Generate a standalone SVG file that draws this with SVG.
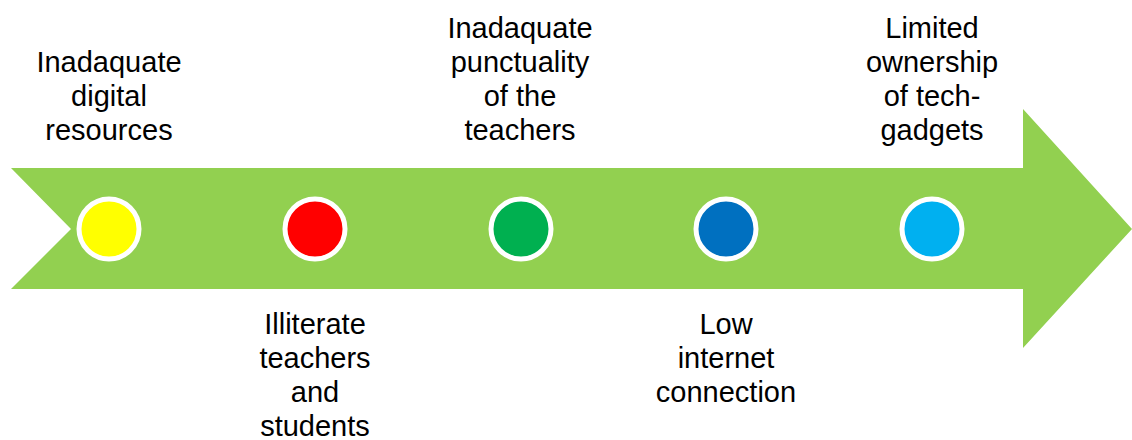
<svg xmlns="http://www.w3.org/2000/svg" width="1132" height="440" viewBox="0 0 1132 440">
<style>
.lbl{font-family:"Liberation Sans",Arial,sans-serif;font-size:29px;fill:#000;text-anchor:middle}
.dot{stroke:#fff;stroke-width:5}
</style>
<rect width="1132" height="440" fill="#fff"/>
<g id="connectors">
<path id="arrow" d="M11,168 L1023,168 L1023,109 L1132,229 L1023,348 L1023,289 L11,289 L71,229 Z" fill="#92D050"/>
</g>
<g id="node1">
<circle class="dot" cx="109" cy="229" r="30" fill="#FFFF00"/>
<text class="lbl" x="109" y="72">Inadaquate</text>
<text class="lbl" x="109" y="106">digital</text>
<text class="lbl" x="109" y="140">resources</text>
</g>
<g id="node2">
<circle class="dot" cx="315" cy="229" r="30" fill="#FF0000"/>
<text class="lbl" x="315" y="334">Illiterate</text>
<text class="lbl" x="315" y="368">teachers</text>
<text class="lbl" x="315" y="402">and</text>
<text class="lbl" x="315" y="436">students</text>
</g>
<g id="node3">
<circle class="dot" cx="521" cy="229" r="30" fill="#00B050"/>
<text class="lbl" x="520" y="38">Inadaquate</text>
<text class="lbl" x="520" y="72">punctuality</text>
<text class="lbl" x="520" y="106">of the</text>
<text class="lbl" x="520" y="140">teachers</text>
</g>
<g id="node4">
<circle class="dot" cx="726" cy="229" r="30" fill="#0070C0"/>
<text class="lbl" x="726" y="334">Low</text>
<text class="lbl" x="726" y="368">internet</text>
<text class="lbl" x="726" y="402">connection</text>
</g>
<g id="node5">
<circle class="dot" cx="932" cy="229" r="30" fill="#00B0F0"/>
<text class="lbl" x="932" y="38">Limited</text>
<text class="lbl" x="932" y="72">ownership</text>
<text class="lbl" x="932" y="106">of tech-</text>
<text class="lbl" x="932" y="140">gadgets</text>
</g>
</svg>
